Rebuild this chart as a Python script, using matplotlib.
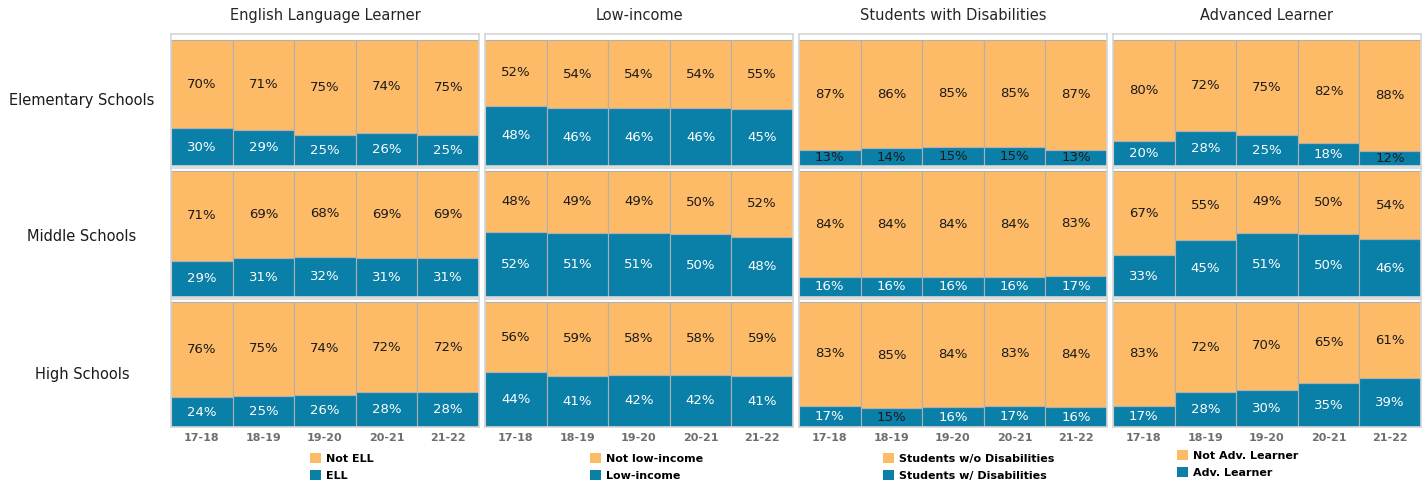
import matplotlib.pyplot as plt
import numpy as np
from matplotlib.patches import Patch

years = ["17-18", "18-19", "19-20", "20-21", "21-22"]
levels = ["Elementary Schools", "Middle Schools", "High Schools"]
groups = ["English Language Learner", "Low-income", "Students with Disabilities", "Advanced Learner"]

# share of the "in group" students (blue), rows = school level
ell = [[30, 29, 25, 26, 25],
       [29, 31, 32, 31, 31],
       [24, 25, 26, 28, 28]]
not_ell = [[70, 71, 75, 74, 75],
           [71, 69, 68, 69, 69],
           [76, 75, 74, 72, 72]]

low_income = [[48, 46, 46, 46, 45],
              [52, 51, 51, 50, 48],
              [44, 41, 42, 42, 41]]
not_low_income = [[52, 54, 54, 54, 55],
                  [48, 49, 49, 50, 52],
                  [56, 59, 58, 58, 59]]

swd = [[13, 14, 15, 15, 13],
       [16, 16, 16, 16, 17],
       [17, 15, 16, 17, 16]]
not_swd = [[87, 86, 85, 85, 87],
           [84, 84, 84, 84, 83],
           [83, 85, 84, 83, 84]]

adv = [[20, 28, 25, 18, 12],
       [33, 45, 51, 50, 46],
       [17, 28, 30, 35, 39]]
not_adv = [[80, 72, 75, 82, 88],
           [67, 55, 49, 50, 54],
           [83, 72, 70, 65, 61]]

in_labels = ["ELL", "Low-income", "Students w/ Disabilities", "Adv. Learner"]
out_labels = ["Not ELL", "Not low-income", "Students w/o Disabilities", "Not Adv. Learner"]

blue_data = [ell, low_income, swd, adv]
orange_data = [not_ell, not_low_income, not_swd, not_adv]

BLUE = "#0A7FA8"
ORANGE = "#FDBB68"
W, H = 1426, 487

fig = plt.figure(figsize=(W / 100, H / 100), dpi=100)

col_left = [171, 485, 799, 1113]
col_width = 308
row_spans = [(34, 166), (168, 297), (299, 427)]
row_top = [105, 102.5, 102.5]
row_label_y = [101, 236, 374]
legend_x = [310, 590, 883, 1177]
legend_y = [453, 453, 453, 450]

x = np.arange(len(years))

for c in range(4):
    for r in range(3):
        top, bottom = row_spans[r]
        ax = fig.add_axes([col_left[c] / W, 1 - bottom / H, col_width / W, (bottom - top) / H])
        blue = np.array(blue_data[c][r])
        orange = np.array(orange_data[c][r])
        ax.bar(x, blue, width=1, color=BLUE, edgecolor="#b0b0b0", linewidth=0.8)
        ax.bar(x, orange, width=1, bottom=blue, color=ORANGE, edgecolor="#b0b0b0", linewidth=0.8)
        for i in range(len(x)):
            ax.text(x[i], blue[i] / 2, f"{blue[i]}%", ha="center", va="center", fontsize=9.5,
                    color="white" if blue[i] > 15 else "#1a1a1a")
            ax.text(x[i], blue[i] + orange[i] / 2, f"{orange[i]}%", ha="center", va="center",
                    fontsize=9.5, color="#1a1a1a")
        ax.set_xlim(-0.5, 4.5)
        ax.set_ylim(0, row_top[r])
        ax.set_yticks([])
        for s in ax.spines.values():
            s.set_color("#d6d6d6")
            s.set_linewidth(1.2)
        ax.tick_params(length=0)
        if r == 2:
            ax.set_xticks(x)
            ax.set_xticklabels(years, fontsize=8, fontweight="bold", color="#6e6e6e")
            ax.tick_params(axis="x", pad=4)
        else:
            ax.set_xticks([])
        if r == 0:
            ax.set_title(groups[c], fontsize=10.5, color="#262626", pad=10)

    handles = [Patch(facecolor=ORANGE, edgecolor="none"), Patch(facecolor=BLUE, edgecolor="none")]
    fig.legend(handles, [out_labels[c], in_labels[c]], loc="upper left",
               bbox_to_anchor=(legend_x[c] / W, 1 - legend_y[c] / H), frameon=False,
               prop={"size": 8, "weight": "bold"}, handlelength=0.95, handleheight=0.95,
               handletextpad=0.5, labelspacing=0.6, borderpad=0, borderaxespad=0)

for r in range(3):
    fig.text(82 / W, 1 - row_label_y[r] / H, levels[r], ha="center", va="center",
             fontsize=10.5, color="#1a1a1a")

fig.savefig("out.png", dpi=100)
